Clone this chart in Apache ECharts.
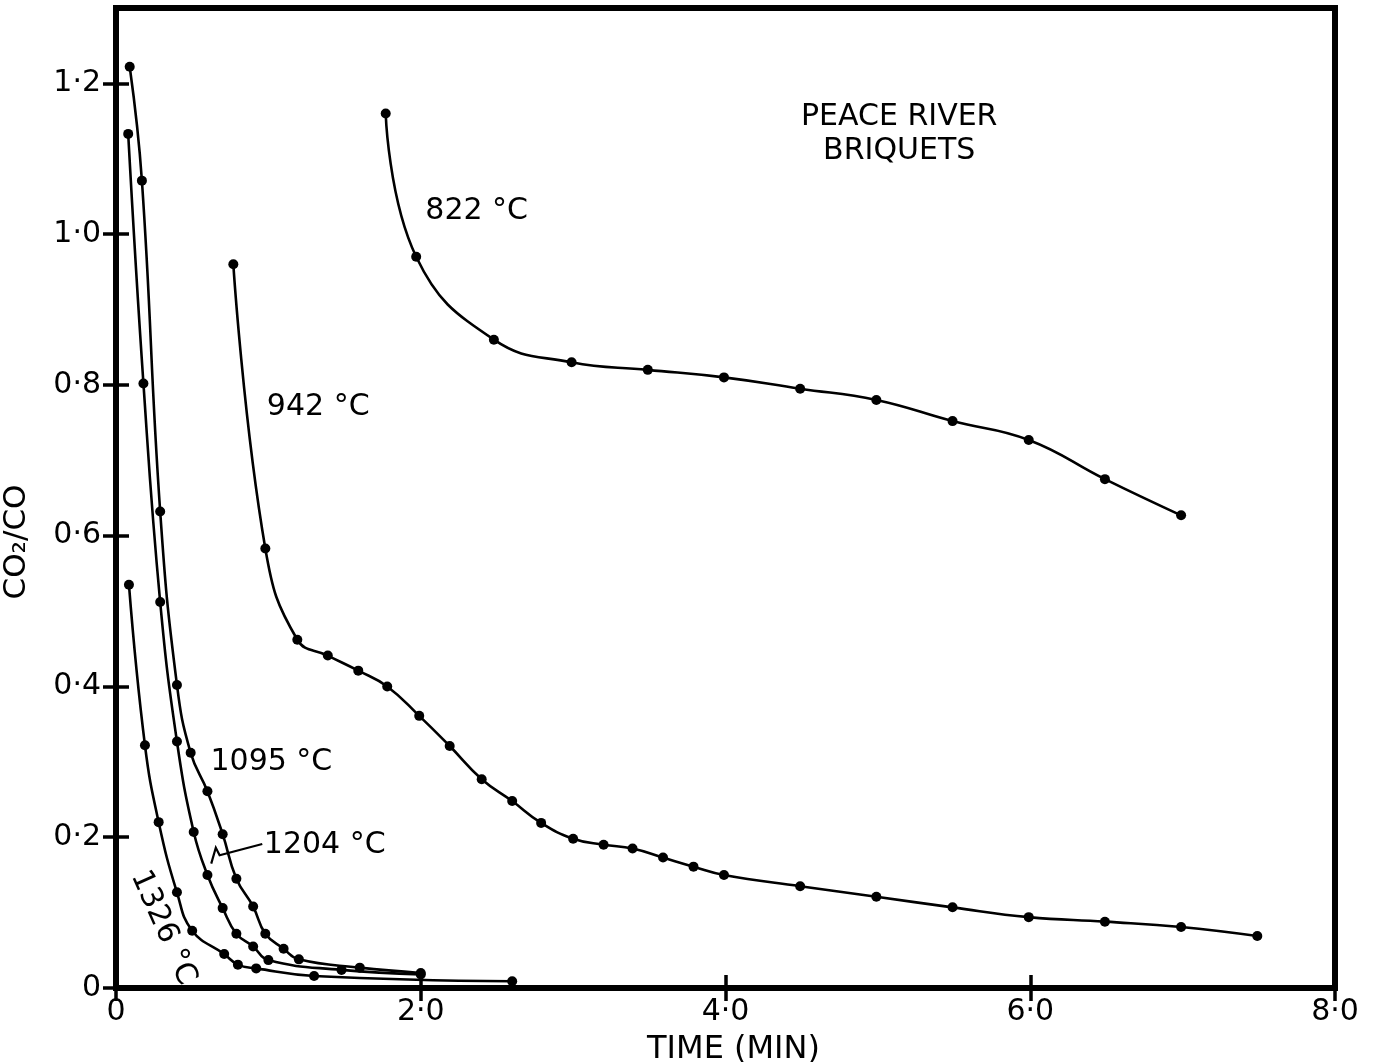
<!DOCTYPE html>
<html>
<head>
<meta charset="utf-8">
<title>Peace River briquets – CO2/CO vs time</title>
<script src="https://cdn.jsdelivr.net/npm/echarts@6/dist/echarts.min.js"></script>
<style>
  html, body { margin: 0; padding: 0; background: #fff; }
  #chart { width: 1375px; height: 1062px; }
</style>
</head>
<body>
<div id="chart"></div>
<script>
// Time (min) and CO2/CO ratio for each furnace temperature
const t822 = [1.77, 1.97, 2.48, 2.99, 3.49, 3.99, 4.49, 4.99, 5.49, 5.99, 6.49, 6.99];
const r822 = [1.16, 0.97, 0.86, 0.83, 0.82, 0.81, 0.795, 0.78, 0.752, 0.727, 0.675, 0.627];

const t942 = [0.77, 0.98, 1.19, 1.39, 1.59, 1.78, 1.99, 2.19, 2.40, 2.60, 2.79, 3.0, 3.2, 3.39, 3.59, 3.79, 3.99, 4.49, 4.99, 5.49, 5.99, 6.49, 6.99, 7.49];
const r942 = [0.96, 0.583, 0.462, 0.441, 0.421, 0.40, 0.361, 0.321, 0.277, 0.248, 0.219, 0.198, 0.19, 0.185, 0.173, 0.161, 0.15, 0.135, 0.121, 0.107, 0.094, 0.088, 0.081, 0.069];

const t1095 = [0.09, 0.17, 0.29, 0.40, 0.49, 0.60, 0.70, 0.79, 0.90, 0.98, 1.10, 1.20, 1.60, 2.0];
const r1095 = [1.222, 1.071, 0.632, 0.402, 0.312, 0.261, 0.204, 0.145, 0.108, 0.072, 0.052, 0.038, 0.027, 0.020];

const t1204 = [0.08, 0.18, 0.29, 0.40, 0.51, 0.60, 0.70, 0.79, 0.90, 1.0, 1.48, 2.0];
const r1204 = [1.133, 0.802, 0.512, 0.327, 0.207, 0.150, 0.106, 0.072, 0.055, 0.037, 0.024, 0.018];

const t1326 = [0.085, 0.19, 0.28, 0.40, 0.50, 0.71, 0.80, 0.92, 1.30, 2.60];
const r1326 = [0.535, 0.322, 0.220, 0.127, 0.076, 0.045, 0.031, 0.026, 0.016, 0.009];

const xTicks = [0, 2, 4, 6, 8];
const yTicks = [0, 0.2, 0.4, 0.6, 0.8, 1.0, 1.2];

const FONT = '"DejaVu Sans", "Liberation Sans", sans-serif';
const INK = '#000';

function pairs(t, r) { return t.map((v, i) => [v, r[i]]); }
function dotted(v) { return v === 0 ? '0' : v.toFixed(1).replace('.', '\u00B7'); }

function curve(name, t, r) {
  return {
    name: name,
    type: 'line',
    data: pairs(t, r),
    smooth: 0.45,
    symbol: 'circle',
    symbolSize: 10,
    showAllSymbol: true,
    itemStyle: { color: INK },
    lineStyle: { color: INK, width: 2.6 },
    emphasis: { disabled: true },
    z: 3
  };
}

const tickCommon = {
  show: true,
  inside: true,
  length: 13,
  lineStyle: { color: INK, width: 3.5 }
};

const chart = echarts.init(document.getElementById('chart'), null, { renderer: 'canvas' });

chart.setOption({
  animation: false,
  backgroundColor: '#fff',
  grid: {
    left: 116, right: 40, top: 8, bottom: 74,
    outerBoundsMode: 'none', containLabel: false,
    show: true, borderColor: INK, borderWidth: 6, backgroundColor: 'transparent'
  },
  xAxis: [
    {
      type: 'value', min: 0, max: 8, interval: 2, position: 'bottom',
      axisLine: { show: false },
      axisTick: Object.assign({ customValues: xTicks }, tickCommon),
      splitLine: { show: false },
      axisLabel: {
        customValues: xTicks, formatter: dotted,
        color: INK, fontFamily: FONT, fontSize: 30, margin: 9
      },
      name: 'TIME (MIN)', nameLocation: 'middle', nameGap: 46,
      nameTextStyle: { color: INK, fontFamily: FONT, fontSize: 32, padding: [0, 0, 0, 16] }
    },
    {
      type: 'value', min: 0, max: 8, interval: 2, position: 'top',
      axisLine: { show: false },
      axisTick: Object.assign({ customValues: xTicks }, tickCommon),
      splitLine: { show: false },
      axisLabel: { show: false }
    }
  ],
  yAxis: [
    {
      type: 'value', min: 0, max: 1.3, interval: 0.2, position: 'left',
      axisLine: { show: false },
      axisTick: Object.assign({ customValues: yTicks }, tickCommon),
      splitLine: { show: false },
      axisLabel: {
        customValues: yTicks, formatter: dotted,
        color: INK, fontFamily: FONT, fontSize: 30, margin: 15
      },
      name: 'CO\u2082/CO', nameLocation: 'middle', nameGap: 84, nameRotate: 90,
      nameTextStyle: { color: INK, fontFamily: FONT, fontSize: 31, padding: [0, 88, 0, 0] }
    },
    {
      type: 'value', min: 0, max: 1.3, interval: 0.2, position: 'right',
      axisLine: { show: false },
      axisTick: Object.assign({ customValues: yTicks }, tickCommon),
      splitLine: { show: false },
      axisLabel: { show: false }
    }
  ],
  series: [
    curve('822 °C', t822, r822),
    curve('942 °C', t942, r942),
    curve('1095 °C', t1095, r1095),
    curve('1204 °C', t1204, r1204),
    curve('1326 °C', t1326, r1326)
  ]
});

// Curve labels and title, anchored in data coordinates
function px(x, y) { return chart.convertToPixel({ gridIndex: 0 }, [x, y]); }
function label(text, x, y, opts) {
  const p = px(x, y);
  opts = opts || {};
  return {
    type: 'text', x: p[0], y: p[1], rotation: opts.rotation || 0, z: 10,
    style: {
      text: text, fill: INK, font: (opts.size || 30) + 'px ' + FONT,
      textAlign: opts.align || 'left', textVerticalAlign: 'middle',
      lineHeight: opts.lineHeight || 34
    }
  };
}

// leader from the 1204 °C label to its curve, ending in a small zigzag
const leader = [[0.96, 0.191], [0.68, 0.176], [0.655, 0.186], [0.625, 0.165]].map(p => px(p[0], p[1]));

chart.setOption({
  graphic: [
    label('PEACE RIVER\nBRIQUETS', 5.14, 1.133, { align: 'center' }),
    label('822 °C', 2.03, 1.03),
    label('942 °C', 0.99, 0.77),
    label('1095 °C', 0.62, 0.30),
    label('1204 °C', 0.97, 0.19),
    label('1326 °C', 0.31, 0.08, { align: 'center', rotation: -66 * Math.PI / 180 }),
    {
      type: 'polyline', z: 10,
      shape: { points: leader },
      style: { stroke: INK, lineWidth: 2.2, fill: null }
    }
  ]
});
</script>
</body>
</html>
